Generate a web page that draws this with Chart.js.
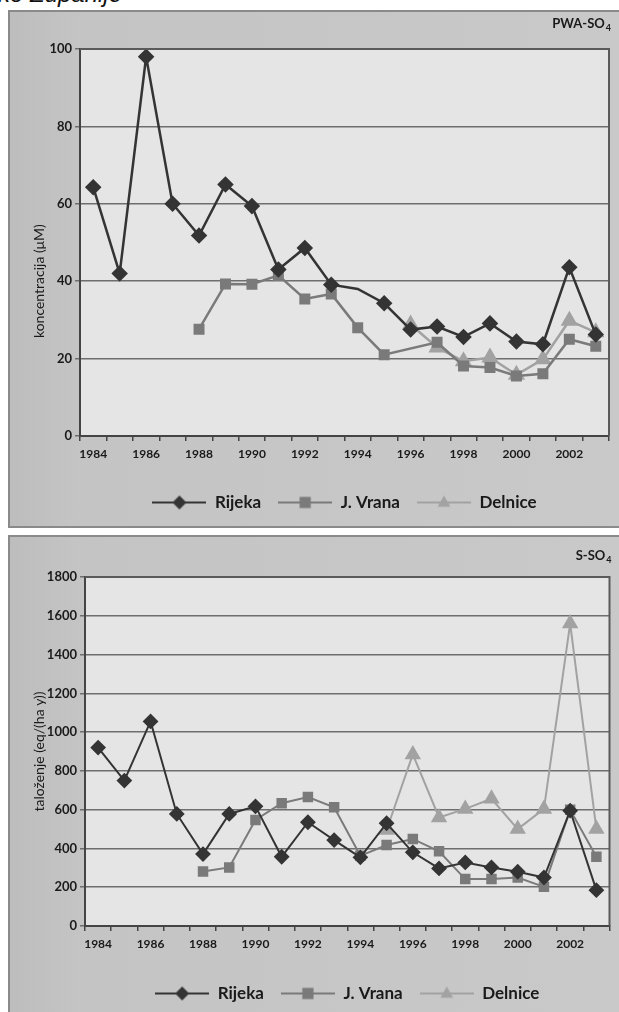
<!DOCTYPE html>
<html>
<head>
<meta charset="utf-8">
<script src="https://cdn.jsdelivr.net/npm/chart.js@4.4.1/dist/chart.umd.min.js"></script>
<style>
body { margin: 0; width: 619px; height: 1012px; background: #fff; position: relative; overflow: hidden; }
.zaglavlje { position: absolute; left: -2px; top: -20px; font: italic 24px "Liberation Sans", Arial, sans-serif; color: #111; white-space: nowrap; }
.panel { position: absolute; left: 8px; width: 611px; box-sizing: border-box; border-top: 2px solid #8a8a8a; border-left: 2px solid #8a8a8a; border-bottom: 2px solid #8a8a8a; overflow: hidden;
  background: linear-gradient(90deg, #bdbdbd 0%, #c4c4c4 11%, #c9c9c9 100%); }
#p1 { top: 10px; height: 518px; }
#p2 { top: 535px; height: 490px; }
.panel canvas { position: absolute; left: 0; top: 0; }
</style>
</head>
<body>
<div class="zaglavlje">ko Županije</div>
<div class="panel" id="p1"><canvas id="c1" width="609" height="514"></canvas></div>
<div class="panel" id="p2"><canvas id="c2" width="609" height="480"></canvas></div>
<script>
const godine = ['1984','1985','1986','1987','1988','1989','1990','1991','1992','1993',
                '1994','1995','1996','1997','1998','1999','2000','2001','2002','2003'];

// PWA-SO4, koncentracija (uM)
const pwaRijeka  = [64.3, 42, 98, 60, 51.8, 65, 59.4, 43, 48.6, 39.1, 38, 34.3, 27.5, 28.3, 25.6, 29.1, 24.4, 23.7, 43.6, 26.2];
const pwaVrana   = [null, null, null, null, 27.6, 39.3, 39.2, 41.5, 35.4, 36.7, 28, 21, null, 24.2, 18.1, 17.7, 15.5, 16.1, 25, 23.2];
const pwaDelnice = [null, null, null, null, null, null, null, null, null, null, null, null, 28.8, 22.9, 19.3, 20.3, 15.8, 19.8, 29.8, 26.8];

// S-SO4, taloženje (eq/(ha y))
const sRijeka  = [920, 750, 1055, 578, 371, 578, 617, 357, 535, 443, 354, 530, 380, 297, 328, 302, 280, 250, 595, 185];
const sVrana   = [null, null, null, null, 281, 302, 547, 633, 665, 612, 362, 418, 449, 385, 242, 242, 250, 202, 599, 357];
const sDelnice = [null, null, null, null, null, null, null, null, null, null, null, 495, 885, 560, 604, 656, 500, 604, 1560, 500];

const boje = { rijeka: '#343434', vrana: '#7a7a7a', delnice: '#a2a2a2' };

function crtajOznaku(ctx, stil, x, y, r) {
    ctx.beginPath();
    if (stil === 'rectRot') {
        ctx.moveTo(x, y - r); ctx.lineTo(x + r, y); ctx.lineTo(x, y + r); ctx.lineTo(x - r, y);
    } else if (stil === 'rect') {
        ctx.rect(x - r * 0.8, y - r * 0.8, r * 1.6, r * 1.6);
    } else {
        ctx.moveTo(x, y - r); ctx.lineTo(x + r * 0.9, y + r * 0.6); ctx.lineTo(x - r * 0.9, y + r * 0.6);
    }
    ctx.closePath();
    ctx.fill();
}

function ikona(stil, boja) {
    const c = document.createElement('canvas');
    c.width = 54; c.height = 16;
    const ctx = c.getContext('2d');
    ctx.strokeStyle = boja; ctx.fillStyle = boja; ctx.lineWidth = 2;
    ctx.beginPath(); ctx.moveTo(0, 8); ctx.lineTo(54, 8); ctx.stroke();
    crtajOznaku(ctx, stil, 27, 8, 7);
    return c;
}

const pozadina = {
    id: 'pozadina',
    beforeDraw(chart) {
        const { ctx, chartArea: a } = chart;
        ctx.save();
        ctx.fillStyle = '#e5e5e5';
        ctx.fillRect(a.left, a.top, a.width, a.height);
        ctx.restore();
    },
    afterDraw(chart, args, opts) {
        const { ctx, chartArea: a } = chart;
        ctx.save();
        ctx.strokeStyle = '#5a5a5a';
        ctx.lineWidth = 2;
        ctx.beginPath();
        ctx.moveTo(a.left, a.top); ctx.lineTo(a.right, a.top); ctx.lineTo(a.right, a.bottom);
        ctx.stroke();
        // naslov gore desno, s indeksom
        ctx.fillStyle = '#1a1a1a';
        ctx.textBaseline = 'middle';
        const sub = '4';
        ctx.font = 'bold 9px Lato';
        const wSub = ctx.measureText(sub).width;
        ctx.fillText(sub, a.right + 2 - wSub, opts.naslovY + 4);
        ctx.font = 'bold 13px Lato';
        const w = ctx.measureText(opts.naslov).width;
        ctx.fillText(opts.naslov, a.right + 1 - wSub - w, opts.naslovY);
        // naslov osi y
        ctx.translate(29, a.top + a.height * opts.osFrac);
        ctx.rotate(-Math.PI / 2);
        ctx.textAlign = 'center';
        ctx.font = '14px Lato';
        ctx.fillText(opts.osTekst, 0, 0);
        ctx.restore();
    }
};

function napraviGraf(platno, podaci, postavke) {
    const stilovi = [
        { label: 'Rijeka', stil: 'rectRot', boja: boje.rijeka, r: 6.5 },
        { label: 'J. Vrana', stil: 'rect', boja: boje.vrana, r: 6 },
        { label: 'Delnice', stil: 'triangle', boja: boje.delnice, r: 7.5 }
    ];
    return new Chart(platno, {
        type: 'line',
        data: {
            labels: godine,
            datasets: stilovi.map((s, i) => ({
                label: s.label,
                data: podaci[i],
                borderColor: s.boja,
                backgroundColor: s.boja,
                pointBackgroundColor: s.boja,
                pointBorderColor: s.boja,
                pointStyle: s.stil,
                pointRadius: i === 0 && postavke.skriveno ? podaci[0].map((v, k) => k === postavke.skriveno ? 0 : s.r) : s.r,
                borderWidth: postavke.debljina,
                tension: 0,
                spanGaps: true,
                ikona: ikona(s.stil, s.boja)
            }))
        },
        options: {
            responsive: false,
            animation: false,
            layout: { padding: { top: postavke.vrh, right: postavke.desno, left: 0, bottom: 5 } },
            plugins: {
                tooltip: { enabled: false },
                pozadina: { naslov: postavke.naslov, naslovY: postavke.naslovY, osTekst: postavke.osTekst, osFrac: postavke.osFrac },
                legend: {
                    position: 'bottom',
                    fullSize: false,
                    labels: {
                        usePointStyle: true,
                        pointStyleWidth: 54,
                        padding: 17,
                        color: '#1a1a1a',
                        font: { family: 'Lato', size: 17, weight: 'bold' },
                        generateLabels(chart) {
                            return chart.data.datasets.map((d, i) => ({
                                text: d.label,
                                pointStyle: d.ikona,
                                fillStyle: d.borderColor,
                                strokeStyle: d.borderColor,
                                lineWidth: 0,
                                hidden: false,
                                datasetIndex: i,
                                fontColor: '#1a1a1a'
                            }));
                        }
                    }
                }
            },
            scales: {
                x: {
                    offset: true,
                    afterFit(scale) { scale.height = postavke.visinaX; },
                    grid: { offset: true, drawOnChartArea: false, drawTicks: true, tickLength: 5, color: '#444', lineWidth: 1.5 },
                    border: { color: '#444', width: 2 },
                    ticks: {
                        autoSkip: false,
                        maxRotation: 0,
                        padding: 6,
                        color: '#1a1a1a',
                        font: { family: 'Lato', size: 12, weight: 'bold' },
                        callback(v, i) { return i % 2 === 0 ? this.getLabelForValue(v) : ''; }
                    }
                },
                y: {
                    min: 0,
                    max: postavke.max,
                    afterFit(scale) { scale.width = postavke.sirinaY; },
                    grid: { color: '#6e6e6e', lineWidth: 1.5, tickLength: 5 },
                    border: { color: '#444', width: 2 },
                    ticks: {
                        stepSize: postavke.korak,
                        padding: 3,
                        color: '#1a1a1a',
                        font: { family: 'Lato', size: 13, weight: 'bold' },
                        callback(v) { return String(v); }
                    }
                }
            }
        },
        plugins: [pozadina]
    });
}

napraviGraf(document.getElementById('c1'), [pwaRijeka, pwaVrana, pwaDelnice], {
    max: 100, korak: 20, vrh: 37, desno: 9, sirinaY: 70, visinaX: 41, debljina: 2.5,
    naslov: 'PWA-SO', naslovY: 12, osTekst: 'koncentracija (μM)', osFrac: 0.6, skriveno: 10
});

napraviGraf(document.getElementById('c2'), [sRijeka, sVrana, sDelnice], {
    max: 1800, korak: 200, vrh: 40, desno: 7, sirinaY: 75, visinaX: 42, debljina: 2,
    naslov: 'S-SO', naslovY: 19, osTekst: 'taloženje (eq/(ha y))', osFrac: 0.5, skriveno: null
});
</script>
</body>
</html>
